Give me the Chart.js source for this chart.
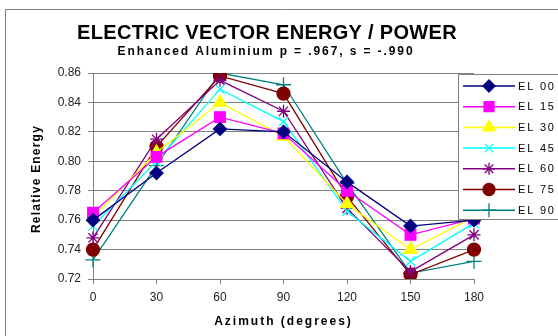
<!DOCTYPE html>
<html>
<head>
<meta charset="utf-8">
<script src="https://cdn.jsdelivr.net/npm/chart.js@4"></script>
<style>
  body { margin: 0; background: #fff; }
  #wrap { width: 558px; height: 336px; }
</style>
</head>
<body>
<div id="wrap"><canvas id="evp"></canvas></div>
<script>
const azimuth = ['0', '30', '60', '90', '120', '150', '180']
const yTicks = [0.72, 0.74, 0.76, 0.78, 0.80, 0.82, 0.84, 0.86]

const el00 = [0.760, 0.792, 0.822, 0.820, 0.786, 0.756, 0.760]
const el15 = [0.765, 0.803, 0.830, 0.819, 0.780, 0.750, 0.761]
const el30 = [0.762, 0.806, 0.840, 0.817, 0.771, 0.740, 0.762]
const el45 = [0.756, 0.800, 0.849, 0.827, 0.766, 0.732, 0.758]
const el60 = [0.748, 0.815, 0.855, 0.834, 0.768, 0.725, 0.750]
const el75 = [0.740, 0.810, 0.858, 0.846, 0.776, 0.723, 0.740]
const el90 = [0.733, 0.797, 0.860, 0.852, 0.785, 0.724, 0.732]

const seriesNames = ['EL 00', 'EL 15', 'EL 30', 'EL 45', 'EL 60', 'EL 75', 'EL 90']

const titleText = 'ELECTRIC VECTOR ENERGY / POWER'
const subtitleText = 'Enhanced Aluminium p = .967, s = -.990'
const xTitle = 'Azimuth (degrees)'
const yTitle = 'Relative Energy'

function series(label, data, color, style, radius) {
  return {
    label: label,
    data: data,
    borderColor: color,
    backgroundColor: color,
    borderWidth: 1.3,
    pointStyle: style,
    pointRadius: radius,
    pointBorderWidth: 1.3,
    pointHoverRadius: radius,
    tension: 0
  }
}

// frame + text drawn by hand so letter spacing can match
const decor = {
  id: 'decor',
  beforeDraw(chart) {
    const ctx = chart.ctx
    ctx.save()
    ctx.fillStyle = '#fff'
    ctx.fillRect(0, 0, chart.width, chart.height)
    ctx.strokeStyle = '#808080'
    ctx.lineWidth = 1
    ctx.beginPath()
    ctx.moveTo(558, 9.5)
    ctx.lineTo(5.5, 9.5)
    ctx.lineTo(5.5, 340)
    ctx.stroke()
    ctx.restore()
  },
  afterDraw(chart) {
    const ctx = chart.ctx
    const area = chart.chartArea
    const cx = (area.left + area.right) / 2
    ctx.save()
    ctx.fillStyle = '#000'
    ctx.textAlign = 'center'
    ctx.textBaseline = 'middle'

    ctx.font = 'bold 20px Arial, "Liberation Sans", sans-serif'
    ctx.letterSpacing = '0.3px'
    ctx.fillText(titleText, 267, 33)

    ctx.font = 'bold 12px Arial, "Liberation Sans", sans-serif'
    ctx.letterSpacing = '1.9px'
    ctx.fillText(subtitleText, 266, 52)

    ctx.letterSpacing = '2px'
    ctx.fillText(xTitle, cx, 322)

    ctx.translate(37, (area.top + area.bottom) / 2 + 3)
    ctx.rotate(-Math.PI / 2)
    ctx.font = 'bold 12px Arial, "Liberation Sans", sans-serif'
    ctx.letterSpacing = '1.2px'
    ctx.fillText(yTitle, 0, 0)
    ctx.restore()

    // legend box
    ctx.save()
    const lx = 458.5, ly = 74.5
    ctx.fillStyle = '#fff'
    ctx.fillRect(lx, ly, 110, 145)
    ctx.strokeStyle = '#808080'
    ctx.lineWidth = 1
    ctx.strokeRect(lx, ly, 110, 145)
    ctx.font = '11px Arial, "Liberation Sans", sans-serif'
    ctx.letterSpacing = '1.8px'
    ctx.textBaseline = 'middle'
    ctx.textAlign = 'left'
    chart.data.datasets.forEach((ds, i) => {
      const y = 86 + i * 20.7
      ctx.strokeStyle = ds.borderColor
      ctx.lineWidth = 1.5
      ctx.beginPath()
      ctx.moveTo(463, y)
      ctx.lineTo(515, y)
      ctx.stroke()
      ctx.fillStyle = ds.backgroundColor
      ctx.lineWidth = 1.3
      Chart.helpers.drawPoint(ctx, { pointStyle: ds.pointStyle, radius: ds.pointRadius - 0.5, borderWidth: 1.3 }, 489, y)
      ctx.fillStyle = '#000'
      ctx.fillText(ds.label, 518, y + 0.5)
    })
    ctx.restore()
  }
}

Chart.defaults.font.family = 'Arial, "Liberation Sans", sans-serif'
Chart.defaults.color = '#000'

const evp = document.getElementById('evp')

new Chart(evp, {
  type: 'line',
  data: {
    labels: azimuth,
    datasets: [
      series(seriesNames[0], el00, '#000080', 'rectRot', 6.5),
      series(seriesNames[1], el15, '#ff00ff', 'rect', 7.5),
      series(seriesNames[2], el30, '#ffff00', 'triangle', 7.5),
      series(seriesNames[3], el45, '#00ffff', 'crossRot', 6.5),
      series(seriesNames[4], el60, '#800080', 'star', 6.5),
      series(seriesNames[5], el75, '#800000', 'circle', 6.5),
      series(seriesNames[6], el90, '#008080', 'cross', 7.5)
    ]
  },
  options: {
    responsive: true,
    maintainAspectRatio: false,
    animation: false,
    layout: {
      padding: { top: 73, left: 6, right: 84, bottom: 0 }
    },
    plugins: {
      legend: { display: false },
      title: { display: false },
      tooltip: { enabled: false }
    },
    scales: {
      x: {
        offset: false,
        grid: {
          drawOnChartArea: false,
          drawTicks: true,
          tickLength: 5,
          color: '#808080'
        },
        border: { display: true, color: '#808080' },
        ticks: {
          padding: 6,
          font: { size: 12 },
          color: '#222',
          maxRotation: 0
        },
        afterFit(scale) { scale.height = 57 }
      },
      y: {
        min: 0.72,
        max: 0.86,
        afterBuildTicks(scale) {
          scale.ticks = yTicks.map(v => ({ value: v }))
        },
        grid: {
          color: '#808080',
          tickLength: 5,
          lineWidth: 1
        },
        border: { display: true, color: '#808080' },
        ticks: {
          padding: 7,
          font: { size: 12 },
          color: '#222',
          callback: v => Number(v).toFixed(2)
        },
        afterFit(scale) { scale.width = 87 }
      }
    }
  },
  plugins: [decor]
});
</script>
</body>
</html>
